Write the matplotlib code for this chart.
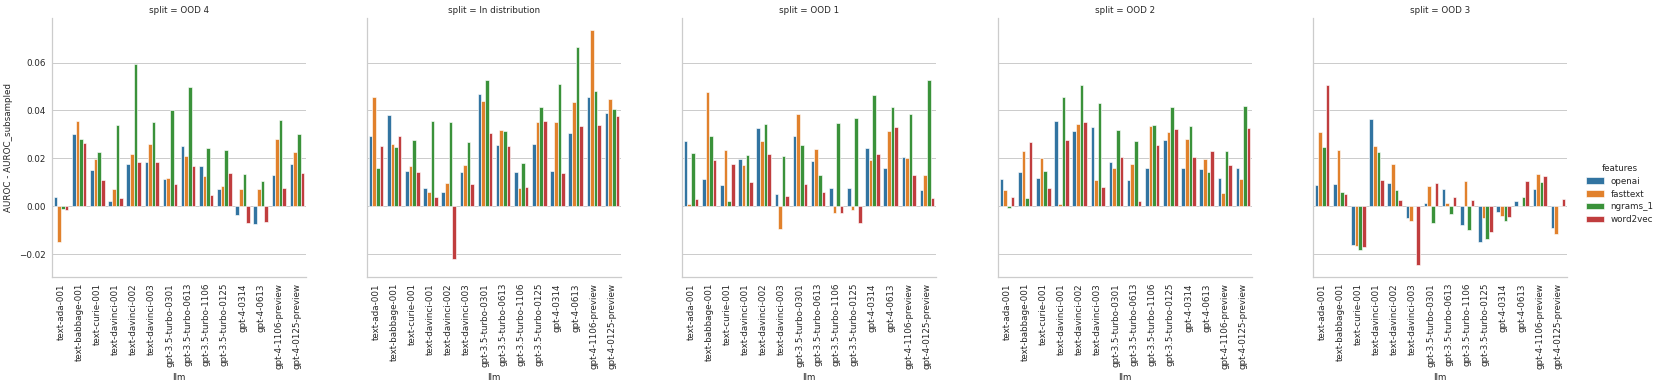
import matplotlib.pyplot as plt
import numpy as np

llms = ["text-ada-001", "text-babbage-001", "text-curie-001", "text-davinci-001",
        "text-davinci-002", "text-davinci-003", "gpt-3.5-turbo-0301", "gpt-3.5-turbo-0613",
        "gpt-3.5-turbo-1106", "gpt-3.5-turbo-0125", "gpt-4-0314", "gpt-4-0613",
        "gpt-4-1106-preview", "gpt-4-0125-preview"]
features = ["openai", "fasttext", "ngrams_1", "word2vec"]
splits = ["OOD 4", "In distribution", "OOD 1", "OOD 2", "OOD 3"]

# rows: openai, fasttext, ngrams_1, word2vec
ood4 = [
    [0.0040, 0.0300, 0.0150, 0.0024, 0.0175, 0.0187, 0.0113, 0.0250, 0.0167, 0.0072, -0.0038, -0.0075, 0.0131, 0.0175],
    [-0.0150, 0.0357, 0.0198, 0.0074, 0.0220, 0.0260, 0.0117, 0.0212, 0.0127, 0.0086, 0.0074, 0.0072, 0.0279, 0.0227],
    [-0.0011, 0.0280, 0.0226, 0.0340, 0.0596, 0.0351, 0.0401, 0.0496, 0.0244, 0.0235, 0.0134, 0.0106, 0.0361, 0.0300],
    [-0.0014, 0.0263, 0.0110, 0.0033, 0.0185, 0.0187, 0.0092, 0.0167, 0.0046, 0.0139, -0.0068, -0.0065, 0.0075, 0.0138],
]
in_dist = [
    [0.0294, 0.0380, 0.0148, 0.0075, 0.0058, 0.0143, 0.0468, 0.0258, 0.0143, 0.0260, 0.0146, 0.0305, 0.0458, 0.0390],
    [0.0458, 0.0259, 0.0169, 0.0061, 0.0096, 0.0174, 0.0440, 0.0318, 0.0078, 0.0352, 0.0352, 0.0435, 0.0735, 0.0448],
    [0.0159, 0.0249, 0.0277, 0.0357, 0.0351, 0.0270, 0.0528, 0.0315, 0.0182, 0.0416, 0.0510, 0.0666, 0.0482, 0.0405],
    [0.0253, 0.0294, 0.0142, 0.0039, -0.0220, 0.0093, 0.0305, 0.0251, 0.0079, 0.0355, 0.0139, 0.0337, 0.0340, 0.0375],
]
ood1 = [
    [0.0272, 0.0114, 0.0090, 0.0198, 0.0327, 0.0050, 0.0294, 0.0191, 0.0078, 0.0075, 0.0244, 0.0160, 0.0205, 0.0070],
    [0.0008, 0.0479, 0.0234, 0.0173, 0.0273, -0.0093, 0.0386, 0.0238, -0.0029, -0.0017, 0.0194, 0.0313, 0.0201, 0.0130],
    [0.0221, 0.0292, 0.0022, 0.0216, 0.0343, 0.0210, 0.0255, 0.0130, 0.0348, 0.0369, 0.0464, 0.0416, 0.0384, 0.0526],
    [0.0032, 0.0192, 0.0178, 0.0103, 0.0217, 0.0045, 0.0093, 0.0058, -0.0028, -0.0071, 0.0219, 0.0331, 0.0130, 0.0035],
]
ood2 = [
    [0.0113, 0.0142, 0.0117, 0.0358, 0.0313, 0.0330, 0.0184, 0.0110, 0.0160, 0.0276, 0.0159, 0.0156, 0.0120, 0.0160],
    [0.0068, 0.0231, 0.0200, 0.0011, 0.0345, 0.0110, 0.0160, 0.0177, 0.0334, 0.0309, 0.0283, 0.0198, 0.0057, 0.0114],
    [-0.0008, 0.0035, 0.0148, 0.0455, 0.0507, 0.0432, 0.0319, 0.0273, 0.0340, 0.0414, 0.0336, 0.0145, 0.0231, 0.0419],
    [0.0040, 0.0267, 0.0075, 0.0276, 0.0351, 0.0079, 0.0206, 0.0021, 0.0256, 0.0323, 0.0205, 0.0231, 0.0173, 0.0325],
]
ood3 = [
    [0.0088, 0.0092, -0.0160, 0.0365, 0.0096, -0.0050, 0.0013, 0.0071, -0.0077, -0.0148, -0.0024, 0.0021, 0.0074, -0.0089],
    [0.0309, 0.0234, -0.0166, 0.0252, 0.0178, -0.0060, 0.0086, 0.0014, 0.0107, -0.0047, -0.0040, 0.0000, 0.0134, -0.0114],
    [0.0247, 0.0058, -0.0182, 0.0228, 0.0067, 0.0000, -0.0068, -0.0033, -0.0099, -0.0135, -0.0061, 0.0040, 0.0102, 0.0000],
    [0.0507, 0.0052, -0.0171, 0.0110, 0.0028, -0.0245, 0.0096, 0.0038, 0.0025, -0.0109, -0.0043, 0.0107, 0.0125, 0.0029],
]
split_data = [ood4, in_dist, ood1, ood2, ood3]

colors = ["#3274a1", "#e1812c", "#3a923a", "#c03d3e"]

plt.rcParams['font.family'] = 'DejaVu Sans'
plt.rcParams['text.color'] = '.15'
plt.rcParams['axes.labelcolor'] = '.15'
plt.rcParams['xtick.color'] = '.15'
plt.rcParams['ytick.color'] = '.15'

fs = 8.8
fig = plt.figure(figsize=(1661 / 72, 389 / 72), dpi=72)
lefts = [52, 367, 682, 998, 1313]
x = np.arange(len(llms))
w = 0.2
for i, split in enumerate(splits):
    ax = fig.add_axes([lefts[i] / 1661, 1 - 277 / 389, 254 / 1661, (277 - 18) / 389])
    for j, feat in enumerate(features):
        ax.bar(x + (j - 1.5) * w, split_data[i][j], w, color=colors[j],
               edgecolor='white', linewidth=0.6, label=feat, zorder=2)
    ax.set_xlim(-0.5, len(llms) - 0.5)
    ax.set_ylim(-0.0295, 0.0786)
    ax.set_yticks([-0.02, 0.0, 0.02, 0.04, 0.06])
    ax.set_xticks(x)
    ax.set_xticklabels(llms, rotation=90, fontsize=fs)
    ax.tick_params(axis='x', length=0, pad=6)
    ax.tick_params(axis='y', length=0, pad=6, labelsize=fs)
    ax.yaxis.grid(True, color='.8', linewidth=1, zorder=0)
    ax.set_axisbelow(True)
    for s in ['top', 'right']:
        ax.spines[s].set_visible(False)
    for s in ['left', 'bottom']:
        ax.spines[s].set_color('.8')
        ax.spines[s].set_linewidth(1.25)
    ax.set_title("split = " + split, fontsize=fs, pad=5)
    ax.set_xlabel("llm", fontsize=fs, labelpad=4)
    if i == 0:
        ax.set_ylabel("AUROC - AUROC_subsampled", fontsize=fs, labelpad=6)
        ax.set_yticklabels(["\u22120.02", "0.00", "0.02", "0.04", "0.06"])
    else:
        ax.set_yticklabels([])
    if i == len(splits) - 1:
        handles, labels = ax.get_legend_handles_labels()

fig.legend(handles, labels, title="features", loc='center left',
           bbox_to_anchor=(1578 / 1661, 1 - 194 / 389), frameon=False,
           fontsize=fs, title_fontsize=fs, handlelength=2.0, handleheight=0.7,
           labelspacing=0.45)

plt.savefig("out.png", dpi=72)
